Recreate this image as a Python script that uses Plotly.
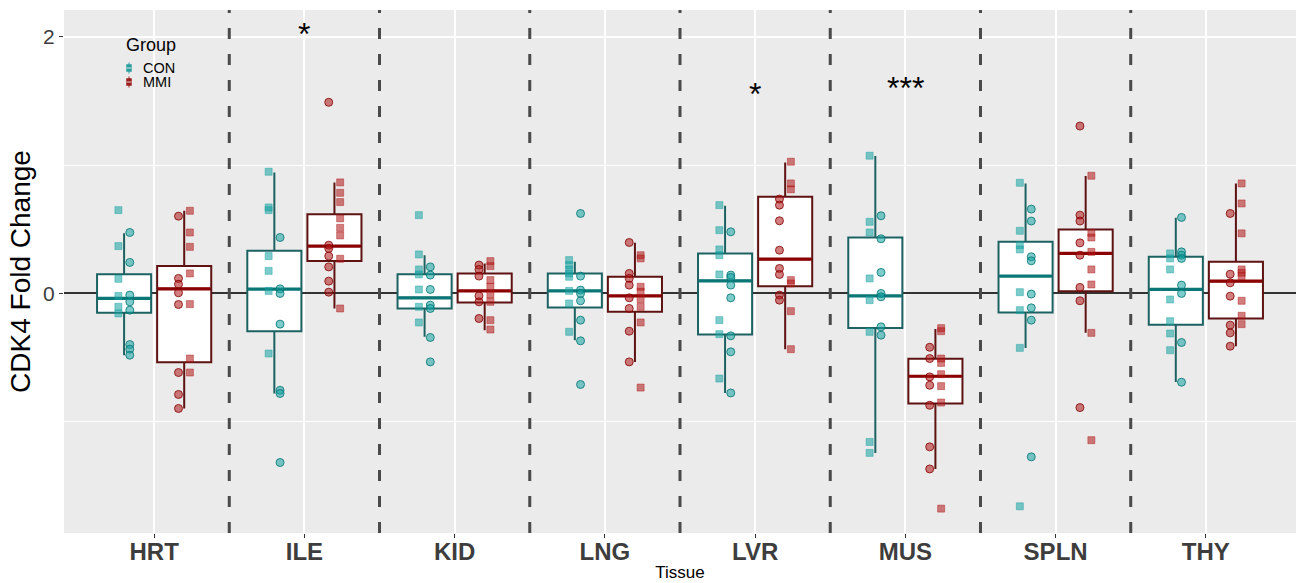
import plotly.graph_objects as go

tissues = ["HRT", "ILE", "KID", "LNG", "LVR", "MUS", "SPLN", "THY"]

# Box statistics (per tissue)
con_q1 = [-0.151, -0.294, -0.117, -0.109, -0.320, -0.270, -0.148, -0.244]
con_med = [-0.039, 0.034, -0.034, 0.020, 0.098, -0.019, 0.135, 0.031]
con_q3 = [0.150, 0.332, 0.150, 0.156, 0.312, 0.436, 0.402, 0.286]
con_lo = [-0.481, -0.779, -0.338, -0.364, -0.775, -1.242, -0.424, -0.689]
con_hi = [0.468, 0.943, 0.298, 0.246, 0.683, 1.070, 0.857, 0.590]

mmi_q1 = [-0.535, 0.252, -0.070, -0.143, 0.057, -0.857, 0.018, -0.195]
mmi_med = [0.036, 0.369, 0.020, -0.019, 0.267, -0.645, 0.312, 0.096]
mmi_q3 = [0.213, 0.616, 0.156, 0.130, 0.753, -0.509, 0.499, 0.246]
mmi_lo = [-0.896, -0.117, -0.286, -0.533, -0.434, -1.367, -0.307, -0.411]
mmi_hi = [0.644, 0.865, 0.234, 0.394, 1.021, -0.276, 0.914, 0.857]

# Individual points (squares / circles) per tissue
con_sq = [
    [0.649, 0.369, 0.114, -0.019, -0.104, -0.156],
    [0.948, 0.670, 0.649, 0.291, 0.176, 0.020, -0.468],
    [0.610, 0.304, 0.187, 0.148, 0.031, -0.104, -0.226],
    [0.260, 0.221, 0.187, 0.156, 0.130, 0.020, -0.078, -0.299],
    [0.688, 0.493, 0.343, 0.298, 0.148, -0.208, -0.317, -0.663],
    [1.073, 0.558, 0.475, 0.117, -0.052, -0.299, -1.157, -1.242],
    [0.862, 0.488, 0.376, 0.343, 0.010, -0.130, -0.424, -1.658],
    [0.312, 0.273, 0.187, -0.047, -0.216, -0.312, -0.442],
]
con_ci = [
    [0.475, 0.242, -0.013, -0.065, -0.130, -0.398, -0.434, -0.481],
    [0.436, 0.036, 0.0, -0.239, -0.754, -0.779, -1.317],
    [0.207, 0.143, 0.031, -0.091, -0.117, -0.343, -0.533],
    [0.623, 0.135, 0.026, 0.0, -0.057, -0.208, -0.369, -0.709],
    [0.480, 0.143, 0.125, 0.065, -0.034, -0.330, -0.455, -0.775],
    [0.605, 0.426, 0.164, 0.0, -0.026, -0.260, -0.325],
    [0.657, 0.564, 0.286, 0.254, -0.005, -0.112, -0.208, -1.273],
    [0.592, 0.324, 0.298, 0.273, 0.065, 0.0, -0.382, -0.691],
]
mmi_sq = [
    [0.644, 0.475, 0.363, 0.156, -0.083, -0.507, -0.616],
    [0.865, 0.784, 0.712, 0.585, 0.511, 0.452, 0.270, -0.117],
    [0.252, 0.213, 0.104, 0.052, -0.008, -0.065, -0.208, -0.281],
    [0.298, 0.273, 0.052, 0.013, -0.044, -0.104, -0.226, -0.733],
    [1.026, 0.857, 0.811, 0.104, 0.078, -0.138, -0.434],
    [-0.270, -0.294, -0.507, -0.541, -0.629, -0.722, -0.850, -1.676],
    [0.917, 0.472, 0.436, 0.324, 0.187, 0.070, -0.307, -1.143],
    [0.857, 0.701, 0.468, 0.187, 0.161, 0.135, -0.057, -0.174, -0.239],
]
mmi_ci = [
    [0.602, 0.117, 0.072, 0.005, -0.086, -0.616, -0.787, -0.896],
    [1.489, 0.376, 0.351, 0.291, 0.207, 0.096, 0.010],
    [0.221, 0.187, 0.135, -0.019, -0.065, -0.195],
    [0.397, 0.156, 0.117, 0.065, -0.034, -0.117, -0.294, -0.533],
    [0.735, 0.688, 0.566, 0.337, 0.195, 0.148, -0.013, -0.052],
    [-0.419, -0.507, -0.650, -0.715, -0.871, -1.195, -1.367],
    [1.304, 0.610, 0.564, 0.394, 0.298, 0.047, -0.057, -0.889],
    [0.623, 0.150, 0.083, -0.021, -0.247, -0.307, -0.411],
]

groups_names = ["CON", "MMI"]
sig_tissue = ["ILE", "LVR", "MUS"]
sig_label = ["*", "*", "***"]
sig_y = [2.02, 1.555, 1.60]

# styling
DODGE = 0.2
BOXW = 0.36
SHAPE_OFF = 0.038
con_line = "#1d6262"
con_med_col = "#0b7676"
mmi_line = "#5e1212"
mmi_med_col = "#8b0000"
con_fill = "rgba(20,160,160,0.55)"
con_edge = "rgba(0,115,115,0.8)"
mmi_fill = "rgba(175,20,20,0.55)"
mmi_edge = "rgba(130,0,0,0.8)"
key_cols = ["#2a9d9d", "#9b1c1c"]

pos = list(range(1, len(tissues) + 1))
fig = go.Figure()

groups = [
    (-DODGE, con_q1, con_med, con_q3, con_lo, con_hi, con_line, con_med_col,
     con_sq, con_ci, -SHAPE_OFF, SHAPE_OFF, con_fill, con_edge),
    (DODGE, mmi_q1, mmi_med, mmi_q3, mmi_lo, mmi_hi, mmi_line, mmi_med_col,
     mmi_sq, mmi_ci, SHAPE_OFF, -SHAPE_OFF, mmi_fill, mmi_edge),
]

for (off, q1, med, q3, lo, hi, lc, mc, sq, ci, sq_off, ci_off, fc, ec) in groups:
    xs = [p + off for p in pos]
    fig.add_trace(go.Box(
        x=xs, q1=q1, median=med, q3=q3, lowerfence=lo, upperfence=hi,
        width=BOXW, fillcolor="white", line=dict(color=lc, width=2),
        whiskerwidth=0, boxpoints=False, showlegend=False, hoverinfo="skip",
    ))
    # thicker median line (ggplot fatten)
    fig.add_trace(go.Box(
        x=xs, q1=med, median=med, q3=med, lowerfence=med, upperfence=med,
        width=BOXW - 0.01, fillcolor="rgba(0,0,0,0)", line=dict(color=mc, width=3.2),
        whiskerwidth=0, boxpoints=False, showlegend=False, hoverinfo="skip",
    ))

for (off, q1, med, q3, lo, hi, lc, mc, sq, ci, sq_off, ci_off, fc, ec) in groups:
    sx, sy, cx, cy = [], [], [], []
    for i, p in enumerate(pos):
        sx += [p + off + sq_off] * len(sq[i])
        sy += sq[i]
        cx += [p + off + ci_off] * len(ci[i])
        cy += ci[i]
    fig.add_trace(go.Scatter(
        x=sx, y=sy, mode="markers", showlegend=False, hoverinfo="skip",
        marker=dict(symbol="square", size=7, color=fc, line=dict(color=fc, width=0.8)),
    ))
    fig.add_trace(go.Scatter(
        x=cx, y=cy, mode="markers", showlegend=False, hoverinfo="skip",
        marker=dict(symbol="circle", size=8, color=fc, line=dict(color=ec, width=1)),
    ))

# separators between tissues
shapes = []
for p in pos[:-1]:
    shapes.append(dict(type="line", xref="x", yref="paper", x0=p + 0.5, x1=p + 0.5,
                       y0=0, y1=1, line=dict(color="#4a4a4a", width=3, dash="11px,15px"),
                       layer="above"))

annotations = []
for t, lab, yv in zip(sig_tissue, sig_label, sig_y):
    annotations.append(dict(x=tissues.index(t) + 1, y=yv, xref="x", yref="y", text=lab,
                            showarrow=False, font=dict(size=32, color="black",
                                                       family="Liberation Sans, Arial")))

# manual legend (inside panel, top-left) in paper coordinates
PW, PH, PL, PB = 1232.0, 523.0, 64.0, 533.0
def px(xp):
    return (xp - PL) / PW
def py(yp):
    return (PB - yp) / PH

annotations.append(dict(x=px(124), y=py(45), xref="paper", yref="paper", text="Group",
                        xanchor="left", yanchor="middle", showarrow=False,
                        font=dict(size=18, color="black")))
for k, (nm, col) in enumerate(zip(groups_names, key_cols)):
    cy_px = 68 + 14 * k
    annotations.append(dict(x=px(141), y=py(cy_px), xref="paper", yref="paper", text=nm,
                            xanchor="left", yanchor="middle", showarrow=False,
                            font=dict(size=14.5, color="black")))
    shapes.append(dict(type="line", xref="paper", yref="paper", x0=px(129), x1=px(129),
                       y0=py(cy_px + 5.5), y1=py(cy_px - 5.5), line=dict(color=col, width=1)))
    shapes.append(dict(type="rect", xref="paper", yref="paper", x0=px(126.5), x1=px(131.5),
                       y0=py(cy_px + 3.5), y1=py(cy_px - 3.5), fillcolor=col,
                       line=dict(color=col, width=0.5)))
    shapes.append(dict(type="line", xref="paper", yref="paper", x0=px(126.5), x1=px(131.5),
                       y0=py(cy_px), y1=py(cy_px), line=dict(color="white", width=0.8)))

fig.update_layout(
    width=1296, height=583,
    margin=dict(l=64, r=0, t=10, b=50),
    plot_bgcolor="#ebebeb", paper_bgcolor="white",
    boxmode="overlay", showlegend=False,
    font=dict(family="Liberation Sans, Arial, sans-serif"),
    shapes=shapes, annotations=annotations,
)
fig.update_xaxes(
    range=[0.4, 8.6], tickmode="array", tickvals=pos, ticktext=tissues,
    showgrid=True, gridcolor="white", gridwidth=1.5, zeroline=False,
    ticks="outside", ticklen=4, tickcolor="#333333", tickwidth=1.2,
    ticklabelstandoff=-7,
    tickfont=dict(size=24, color="#3d3d3d", weight="bold"),
    title=dict(text="Tissue", font=dict(size=17, color="black"), standoff=2),
    showline=False, automargin=False,
)
fig.update_yaxes(
    range=[-1.866, 2.208], tickmode="array", tickvals=[0, 2], ticktext=["0", "2"],
    showgrid=True, gridcolor="white", gridwidth=1.5,
    zeroline=True, zerolinecolor="#333333", zerolinewidth=2.2,
    minor=dict(tickmode="array", tickvals=[-1, 1], showgrid=True, gridcolor="white",
               gridwidth=1, ticks=""),
    ticks="outside", ticklen=4, tickcolor="#333333", tickwidth=1.2,
    tickfont=dict(size=21, color="#3d3d3d"),
    title=dict(text="CDK4 Fold Change", font=dict(size=28, color="black"), standoff=4),
    showline=False, automargin=False,
)

fig.write_html("out.html")
